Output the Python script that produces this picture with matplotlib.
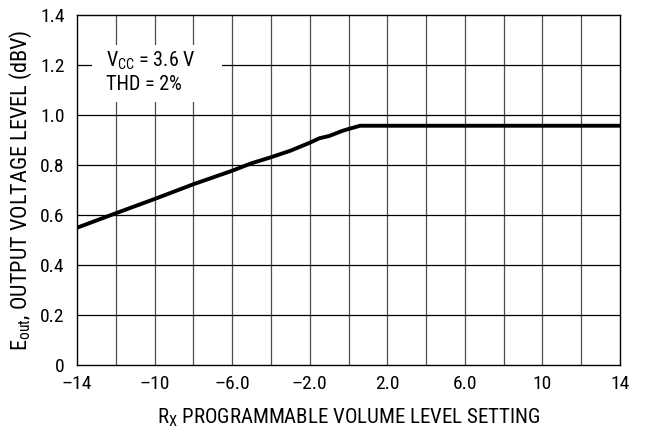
import matplotlib
matplotlib.use("Agg")
import matplotlib.pyplot as plt
from matplotlib.patches import Rectangle

plt.rcParams['font.family'] = ['Roboto Condensed', 'Liberation Sans', 'DejaVu Sans']
plt.rcParams['mathtext.fontset'] = 'custom'
plt.rcParams['mathtext.rm'] = 'Roboto Condensed'

# Data
setting = [-14, -12, -10, -8, -6, -5, -4, -3, -2, -1.5, -1, -0.3, 0, 0.6, 14]
eout = [0.549, 0.607, 0.664, 0.723, 0.777, 0.807, 0.831, 0.857, 0.889, 0.907,
        0.916, 0.937, 0.944, 0.957, 0.957]

xticks = [-14, -10, -6, -2, 2, 6, 10, 14]
xticklabels = ['\u201314', '\u201310', '\u20136.0', '\u20132.0', '2.0', '6.0', '10', '14']
yticks = [0, 0.2, 0.4, 0.6, 0.8, 1.0, 1.2, 1.4]
yticklabels = ['0', '0.2', '0.4', '0.6', '0.8', '1.0', '1.2', '1.4']
xgrid = list(range(-14, 15, 2))

fig = plt.figure(figsize=(6.46, 4.36), dpi=100)
ax = fig.add_axes([77/646, 1 - 365/436, (620-77)/646, (365-15)/436])

ax.set_xlim(-14, 14)
ax.set_ylim(0, 1.4)

for xv in xgrid[1:-1]:
    ax.axvline(xv, color='#4d4d4d', lw=0.9, zorder=1)
for yv in yticks[1:-1]:
    ax.axhline(yv, color='black', lw=0.9, zorder=1)

ax.add_patch(Rectangle((-13.24, 1.053), 6.73, 0.227, facecolor='white', edgecolor='none', zorder=2))
ax.text(-12.5, 1.215, r'V$_{\mathrm{CC}}$ = 3.6 V', fontsize=14.5, va='center', ha='left', zorder=3)
ax.text(-12.5, 1.122, 'THD = 2%', fontsize=14.5, va='center', ha='left', zorder=3)

ax.plot(setting, eout, color='black', lw=2.8, solid_capstyle='butt', zorder=4)

ax.set_xticks(xticks)
ax.set_xticklabels(xticklabels)
ax.set_yticks(yticks)
ax.set_yticklabels(yticklabels)
ax.tick_params(length=0, labelsize=14)
ax.tick_params(axis='x', pad=7)
ax.tick_params(axis='y', pad=9)
for s in ax.spines.values():
    s.set_linewidth(1.0)
    s.set_color('black')

ax.set_xlabel(r'R$_{\mathrm{X}}$ PROGRAMMABLE VOLUME LEVEL SETTING', fontsize=15, labelpad=10)
ax.set_ylabel(r'E$_{\mathrm{out}}$, OUTPUT VOLTAGE LEVEL (dBV)', fontsize=16, labelpad=4)

fig.savefig('out.png', dpi=100)
